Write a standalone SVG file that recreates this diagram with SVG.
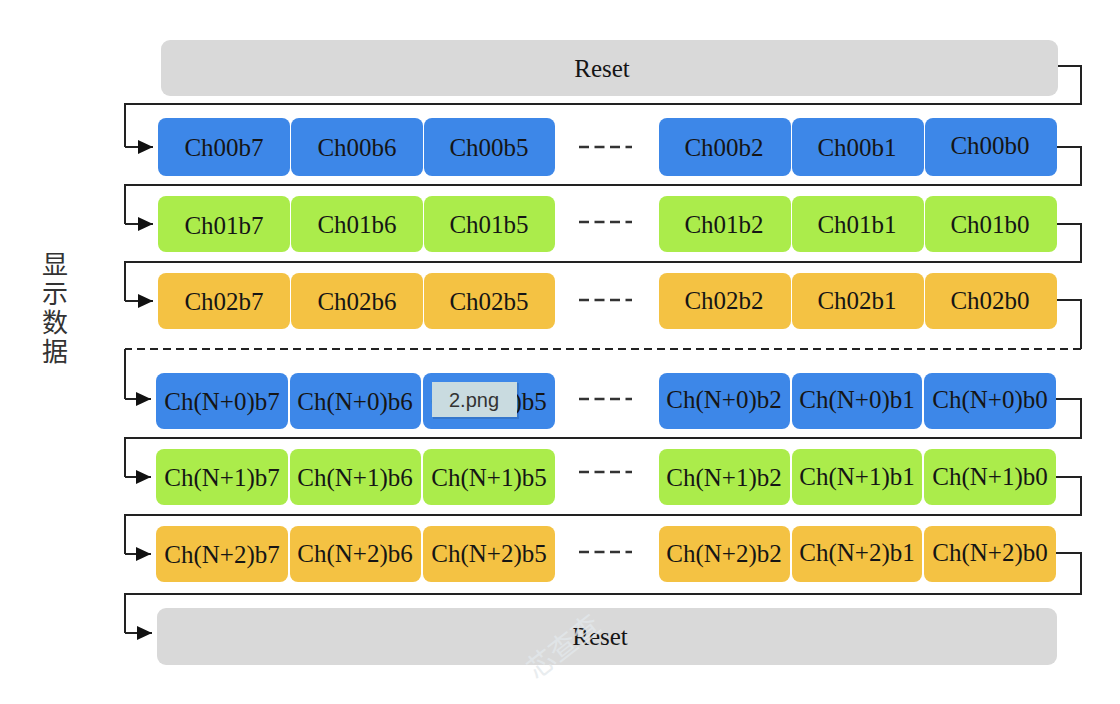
<svg xmlns="http://www.w3.org/2000/svg" width="1120" height="704" viewBox="0 0 1120 704">
<style>
.t{font-family:"Liberation Serif","Times New Roman",serif;font-size:25px;fill:#151515;text-anchor:middle;dominant-baseline:central}
.b{fill:#3d87e8}
.g{fill:#abec4b}
.o{fill:#f4c243}
.r{fill:#d9d9d9}
.c{fill:none;stroke:#222;stroke-width:2}
.d{fill:none;stroke:#333;stroke-width:2.5;stroke-dasharray:10,5.5}
</style>
<defs>
<marker id="ah" markerUnits="userSpaceOnUse" markerWidth="16" markerHeight="16" refX="15" refY="8" orient="auto">
<path d="M0,1 L15,8 L0,15 Z" fill="#111"/>
</marker>
</defs>
<rect width="1120" height="704" fill="#fff"/>

<g id="label">
<text x="55" y="251" writing-mode="tb" font-family="Noto Sans CJK SC, sans-serif" font-size="26" fill="#333" letter-spacing="3">显示数据</text>
</g>

<g id="connectors">
<path class="c" d="M1058,66 H1081 V104 H125 V147" />
<path class="c" d="M125,147 H153" marker-end="url(#ah)"/>
<path class="c" d="M1057,147 H1081 V185 H125 V224" />
<path class="c" d="M125,224 H153" marker-end="url(#ah)"/>
<path class="c" d="M1057,224 H1081 V262 H125 V301" />
<path class="c" d="M125,301 H153" marker-end="url(#ah)"/>
<path class="c" d="M1057,300 H1081 V349" />
<path class="c" d="M1081,349 H125" stroke-dasharray="8,5"/>
<path class="c" d="M125,349 V399" />
<path class="c" d="M125,399 H151" marker-end="url(#ah)"/>
<path class="c" d="M1056,399 H1081 V438 H125 V477" />
<path class="c" d="M125,477 H151" marker-end="url(#ah)"/>
<path class="c" d="M1056,477 H1081 V515 H125 V554" />
<path class="c" d="M125,554 H151" marker-end="url(#ah)"/>
<path class="c" d="M1056,553 H1081 V594 H125 V633" />
<path class="c" d="M125,633 H152" marker-end="url(#ah)"/>
</g>

<g id="reset-top">
<rect class="r" x="161" y="40" width="897" height="56" rx="9"/>
<text class="t" x="602" y="68">Reset</text>
</g>

<g id="row-ch00">
<rect class="b" x="158" y="118" width="132" height="58" rx="8"/><text class="t" x="224" y="147">Ch00b7</text>
<rect class="b" x="291" y="118" width="132" height="58" rx="8"/><text class="t" x="357" y="147">Ch00b6</text>
<rect class="b" x="424" y="118" width="131" height="58" rx="8"/><text class="t" x="489" y="147">Ch00b5</text>
<path class="d" d="M579,147 H632"/>
<rect class="b" x="659" y="118" width="132" height="58" rx="8"/><text class="t" x="724" y="147">Ch00b2</text>
<rect class="b" x="792" y="118" width="132" height="58" rx="8"/><text class="t" x="857" y="147">Ch00b1</text>
<rect class="b" x="925" y="118" width="132" height="58" rx="8"/><text class="t" x="990" y="145">Ch00b0</text>
</g>

<g id="row-ch01">
<rect class="g" x="158" y="196" width="132" height="56" rx="8"/><text class="t" x="224" y="225">Ch01b7</text>
<rect class="g" x="291" y="196" width="132" height="56" rx="8"/><text class="t" x="357" y="224">Ch01b6</text>
<rect class="g" x="424" y="196" width="131" height="56" rx="8"/><text class="t" x="489" y="224">Ch01b5</text>
<path class="d" d="M579,222 H632"/>
<rect class="g" x="659" y="196" width="132" height="56" rx="8"/><text class="t" x="724" y="224">Ch01b2</text>
<rect class="g" x="792" y="196" width="132" height="56" rx="8"/><text class="t" x="857" y="224">Ch01b1</text>
<rect class="g" x="925" y="196" width="132" height="56" rx="8"/><text class="t" x="990" y="224">Ch01b0</text>
</g>

<g id="row-ch02">
<rect class="o" x="158" y="273" width="132" height="56" rx="8"/><text class="t" x="224" y="301">Ch02b7</text>
<rect class="o" x="291" y="273" width="132" height="56" rx="8"/><text class="t" x="357" y="301">Ch02b6</text>
<rect class="o" x="424" y="273" width="131" height="56" rx="8"/><text class="t" x="489" y="301">Ch02b5</text>
<path class="d" d="M579,300 H632"/>
<rect class="o" x="659" y="273" width="132" height="56" rx="8"/><text class="t" x="724" y="300">Ch02b2</text>
<rect class="o" x="792" y="273" width="132" height="56" rx="8"/><text class="t" x="857" y="300">Ch02b1</text>
<rect class="o" x="925" y="273" width="132" height="56" rx="8"/><text class="t" x="990" y="300">Ch02b0</text>
</g>

<g id="row-chn0">
<rect class="b" x="156" y="373" width="132" height="56" rx="8"/><text class="t" x="222" y="401">Ch(N+0)b7</text>
<rect class="b" x="290" y="373" width="131" height="56" rx="8"/><text class="t" x="355" y="401">Ch(N+0)b6</text>
<rect class="b" x="423" y="373" width="132" height="56" rx="8"/><text class="t" x="489" y="401">Ch(N+0)b5</text>
<path class="d" d="M579,399 H632"/>
<rect class="b" x="659" y="373" width="131" height="56" rx="8"/><text class="t" x="724" y="399">Ch(N+0)b2</text>
<rect class="b" x="792" y="373" width="130" height="56" rx="8"/><text class="t" x="857" y="399">Ch(N+0)b1</text>
<rect class="b" x="924" y="373" width="132" height="56" rx="8"/><text class="t" x="990" y="399">Ch(N+0)b0</text>
</g>

<g id="row-chn1">
<rect class="g" x="156" y="449" width="132" height="56" rx="8"/><text class="t" x="222" y="477">Ch(N+1)b7</text>
<rect class="g" x="290" y="449" width="131" height="56" rx="8"/><text class="t" x="355" y="477">Ch(N+1)b6</text>
<rect class="g" x="423" y="449" width="132" height="56" rx="8"/><text class="t" x="489" y="477">Ch(N+1)b5</text>
<path class="d" d="M579,472 H632"/>
<rect class="g" x="659" y="449" width="131" height="56" rx="8"/><text class="t" x="724" y="477">Ch(N+1)b2</text>
<rect class="g" x="792" y="449" width="130" height="56" rx="8"/><text class="t" x="857" y="476">Ch(N+1)b1</text>
<rect class="g" x="924" y="449" width="132" height="56" rx="8"/><text class="t" x="990" y="476">Ch(N+1)b0</text>
</g>

<g id="row-chn2">
<rect class="o" x="156" y="526" width="132" height="56" rx="8"/><text class="t" x="222" y="554">Ch(N+2)b7</text>
<rect class="o" x="290" y="526" width="131" height="56" rx="8"/><text class="t" x="355" y="553">Ch(N+2)b6</text>
<rect class="o" x="423" y="526" width="132" height="56" rx="8"/><text class="t" x="489" y="553">Ch(N+2)b5</text>
<path class="d" d="M579,552 H632"/>
<rect class="o" x="659" y="526" width="131" height="56" rx="8"/><text class="t" x="724" y="553">Ch(N+2)b2</text>
<rect class="o" x="792" y="526" width="130" height="56" rx="8"/><text class="t" x="857" y="552">Ch(N+2)b1</text>
<rect class="o" x="924" y="526" width="132" height="56" rx="8"/><text class="t" x="990" y="552">Ch(N+2)b0</text>
</g>

<g id="reset-bottom">
<rect class="r" x="157" y="608" width="900" height="57" rx="9"/>
<text class="t" x="600" y="636">Reset</text>
</g>

<g id="watermark">
<text x="562" y="645" font-family="Noto Sans CJK SC, sans-serif" font-size="28" fill="#e3e8eb" fill-opacity="0.8" text-anchor="middle" dominant-baseline="central" transform="rotate(-38 562 645)">芯查查</text>
</g>

<g id="tooltip">
<rect x="433" y="383" width="86" height="36" fill="#000" fill-opacity="0.12"/>
<rect x="432" y="382" width="85" height="35" fill="#c9dbe0"/>
<text x="474" y="400" font-family="Liberation Sans, Arial, sans-serif" font-size="20" fill="#333" text-anchor="middle" dominant-baseline="central">2.png</text>
</g>
</svg>
